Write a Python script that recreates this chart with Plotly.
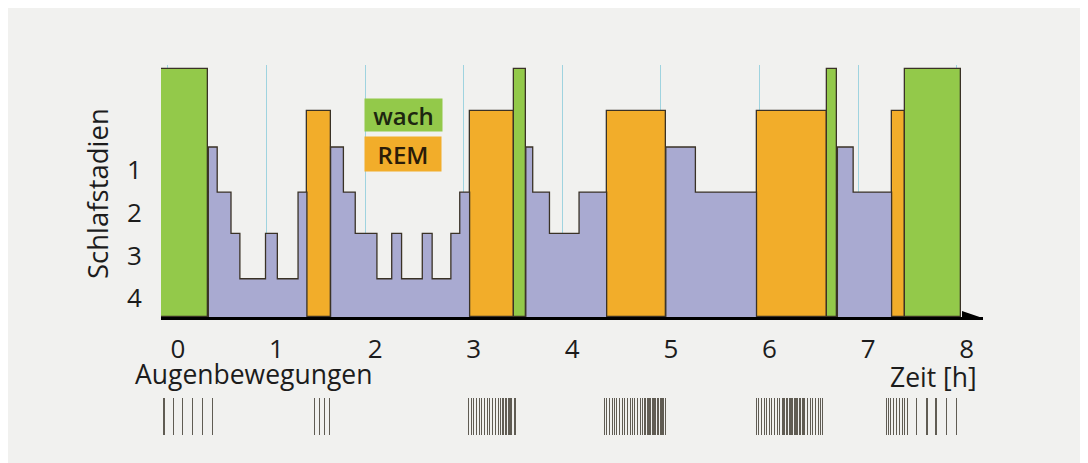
import plotly.graph_objects as go

# ---------------- data ----------------
# hypnogram segments: start time [h] and sleep stage
seg_start = [-0.07, 0.41, 0.50, 0.64, 0.73, 0.99, 1.11, 1.32, 1.41, 1.65,
             1.78, 1.90, 2.12, 2.27, 2.37, 2.58, 2.68, 2.87, 2.96, 3.06,
             3.51, 3.63, 3.70, 3.87, 4.17, 4.45, 5.05, 5.35, 5.97, 6.68,
             6.79, 6.95, 7.34, 7.48]
night_end = 8.04
seg_stage = ["wach", 1, 2, 3, 4, 3, 4, 2, "REM", 1,
             2, 3, 4, 3, 4, 3, 4, 3, 2, "REM",
             "wach", 1, 2, 3, 2, "REM", 1, 2, "REM", "wach",
             1, 2, "REM", "wach"]

# stage labels on the y axis
stage_labels = ["4", "3", "2", "1"]
stage_order = [4, 3, 2, 1]

# hour tick labels
hours = [0, 1, 2, 3, 4, 5, 6, 7, 8]
hour_labels = ["0", "1", "2", "3", "4", "5", "6", "7", "8"]

# eye-movement marks (time in h)
eye_moves = [-0.04, 0.055, 0.15, 0.25, 0.35, 0.455,
             1.49, 1.54, 1.59, 1.637,
             3.05, 3.08, 3.10, 3.13, 3.16, 3.18, 3.21, 3.24, 3.26, 3.29,
             3.32, 3.35, 3.37, 3.40, 3.43, 3.46, 3.48, 3.52,
             4.43, 4.45, 4.48, 4.51, 4.53, 4.55, 4.58, 4.61, 4.63, 4.66,
             4.69, 4.71, 4.73, 4.76, 4.79, 4.81, 4.84, 4.87, 4.89, 4.92,
             4.94, 4.97, 5.00, 5.02, 5.05,
             5.97, 5.99, 6.02, 6.05, 6.07, 6.10, 6.12, 6.15, 6.18, 6.20,
             6.23, 6.25, 6.28, 6.31, 6.33, 6.36, 6.38, 6.41, 6.44, 6.46,
             6.49, 6.52, 6.54, 6.57, 6.60, 6.62, 6.64,
             7.29, 7.31, 7.33, 7.36, 7.39, 7.42, 7.45, 7.47,
             7.50, 7.59, 7.70, 7.79, 7.90, 8.00]

# ---------------- styling ----------------
OFF = 8                    # page body margin
W, H = 1080, 455
BG = "#f1f1ef"
SLEEP = "#a9aad1"
REM_C = "#f2ad2a"
WAKE_C = "#93c94a"
EDGE = "#3a3226"
GRID = "#9fd3df"
TXT = "#1c1c1c"
FONT = "Open Sans"

# heights of the stage levels on the drawing scale
level = {4: 0.9, 3: 1.97, 2: 2.94, 1: 4.0, "REM": 4.85, "wach": 5.84}

seg_end = seg_start[1:] + [night_end]

def px_x(p):
    return (p - OFF) / W

def px_y(p):
    return 1 - (p - OFF) / H

fig = go.Figure()

# sleep stages (step area)
sx = seg_start + [night_end]
sy = [level[s] if isinstance(s, int) else 0 for s in seg_stage]
sy = sy + [sy[-1]]
fig.add_trace(go.Scatter(
    x=sx, y=sy, mode="lines", line=dict(shape="hv", color=EDGE, width=1.3),
    fill="tozeroy", fillcolor=SLEEP, hoverinfo="skip", showlegend=False))

# REM and awake blocks
for kind, col in (("REM", REM_C), ("wach", WAKE_C)):
    idx = [i for i, s in enumerate(seg_stage) if s == kind]
    fig.add_trace(go.Bar(
        x=[(seg_start[i] + seg_end[i]) / 2 for i in idx],
        width=[seg_end[i] - seg_start[i] for i in idx],
        y=[level[kind] for _ in idx],
        marker=dict(color=col, line=dict(color=EDGE, width=1.3)),
        showlegend=False, hoverinfo="skip"))

# eye movements
fig.add_trace(go.Bar(
    x=eye_moves, y=[1 for _ in eye_moves], width=0.013,
    marker=dict(color="rgba(70,66,55,0.85)", line=dict(width=0)),
    xaxis="x2", yaxis="y2", showlegend=False, hoverinfo="skip"))

x_dom = [px_x(161), px_x(983)]
x_rng = [-0.07, 8.267]

fig.update_layout(
    width=W, height=H,
    paper_bgcolor=BG, plot_bgcolor=BG,
    margin=dict(l=0, r=0, t=0, b=0),
    barmode="overlay", bargap=0,
    font=dict(family=FONT, size=26, color=TXT),
    xaxis=dict(
        domain=x_dom, range=x_rng, anchor="y",
        tickvals=hours, ticktext=hour_labels,
        ticks="outside", ticklen=7, tickcolor="rgba(0,0,0,0)",
        ticklabelshift=10,
        showgrid=True, gridcolor=GRID, gridwidth=1,
        showline=True, linecolor="#000", linewidth=3,
        zeroline=False, tickfont=dict(size=26, color=TXT)),
    yaxis=dict(
        domain=[px_y(317), px_y(65)], range=[0, 5.93],
        tickvals=[(level[s] + (level[stage_order[k - 1]] if k > 0 else 0)) / 2
                  for k, s in enumerate(stage_order)],
        ticktext=stage_labels,
        ticks="outside", ticklen=13, tickcolor="rgba(0,0,0,0)",
        showgrid=False, zeroline=False, showline=False,
        tickfont=dict(size=26, color=TXT)),
    xaxis2=dict(domain=x_dom, matches="x", anchor="y2", visible=False),
    yaxis2=dict(domain=[px_y(435), px_y(398)], range=[0, 1], visible=False),
)

# arrow head of the time axis
fig.add_shape(type="path", xref="x", yref="y", xsizemode="pixel", ysizemode="pixel",
              xanchor=x_rng[1], yanchor=0, path="M-21,-9 L1,-1.5 L-21,6 Z",
              fillcolor="#000", line=dict(width=0), layer="above")

ann = [
    dict(text="Schlafstadien", x=px_x(97), y=px_y(194), textangle=-90,
         xanchor="center", yanchor="middle", font=dict(size=27.5)),
    dict(text="Augenbewegungen", x=px_x(133), y=px_y(374),
         xanchor="left", yanchor="middle", font=dict(size=26.5)),
    dict(text="Zeit [h]", x=px_x(933), y=px_y(377),
         xanchor="center", yanchor="middle", font=dict(size=26.5)),
    dict(text="wach", x=px_x(403.5), y=px_y(115), width=77, height=32,
         bgcolor=WAKE_C, borderpad=0, xanchor="center", yanchor="middle",
         font=dict(size=24, weight=600, color="#1d2610")),
    dict(text="REM", x=px_x(403), y=px_y(154), width=76, height=34,
         bgcolor=REM_C, borderpad=0, xanchor="center", yanchor="middle",
         font=dict(size=24, weight=600, color="#2a1c08")),
]
for a in ann:
    a.update(xref="paper", yref="paper", showarrow=False)
    fig.add_annotation(**a)

fig.write_html("out.html")
